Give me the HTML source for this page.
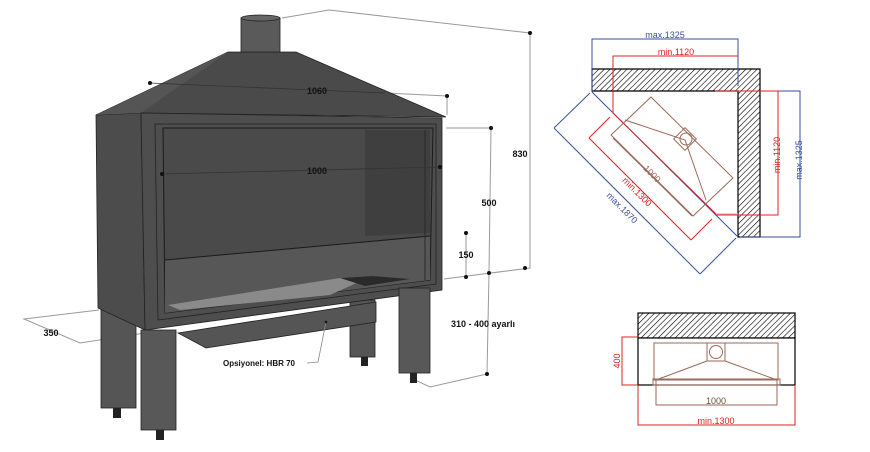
<!DOCTYPE html>
<html><head><meta charset="utf-8"><style>
html,body{margin:0;padding:0;background:#fff;width:870px;height:452px;overflow:hidden}
svg{display:block}
</style></head><body>
<svg width="870" height="452" viewBox="0 0 870 452" xmlns="http://www.w3.org/2000/svg" font-family="Liberation Sans, Arial, sans-serif">
<defs>
<pattern id="h" width="4" height="4" patternUnits="userSpaceOnUse" patternTransform="rotate(45)">
<rect width="4" height="4" fill="#fff"/><line x1="0" y1="0" x2="0" y2="4" stroke="#000" stroke-width="1.2"/>
</pattern>
</defs>
<g stroke="#9a9a9a" stroke-width="1" fill="none">
<polyline points="282,18 329,10 530,33 530,268 444,279"/>
<polyline points="446,128 491,128 489,273 487,374 430,387 415,380"/>
<polyline points="99,310 24,319 80,343 145,333"/>
<line x1="466" y1="233" x2="466" y2="277"/>
<polyline points="385,93 447,96 447,115"/>
</g>
<rect x="101" y="306" width="35" height="102" fill="#555" stroke="#222" stroke-width="0.8"/>
<rect x="113" y="408" width="8" height="10" fill="#222"/>
<rect x="350" y="300" width="25" height="57" fill="#555" stroke="#222" stroke-width="0.8"/>
<rect x="361" y="357" width="7" height="9" fill="#222"/>
<polygon points="96,115 141,113 145,330 98,308" fill="#4c4c4c" stroke="#222" stroke-width="0.8"/>
<polygon points="228,52 296,52 446,117 141,113 96,115" fill="#4a4a4a" stroke="#222" stroke-width="0.8"/>
<polygon points="228,52 141,113 96,115" fill="#555"/>
<rect x="241" y="18" width="39" height="34" fill="#5a5a5a" stroke="#222" stroke-width="0.8"/>
<ellipse cx="260.5" cy="18" rx="19.5" ry="3" fill="#666" stroke="#222" stroke-width="0.8"/>
<polygon points="141,113 442,118 442,290 145,330" fill="#4e4e4e" stroke="#222" stroke-width="0.8"/>
<polygon points="155,124 436,124 436,284 158,320" fill="none" stroke="#222" stroke-width="0.8"/>
<polygon points="163,128 433,128 430,280 165,313" fill="#4a4a4a" stroke="#1a1a1a" stroke-width="1"/>
<polygon points="365,130 430,130 430,233 365,236" fill="#3f3f3f"/>
<polygon points="165,260 430,236 430,280 165,313" fill="#575757"/>
<line x1="165" y1="260" x2="430" y2="236" stroke="#1a1a1a" stroke-width="1"/>
<polygon points="168,305 340,278 372,276 330,295 180,310" fill="#8a8a8a"/>
<polygon points="340,278 372,276 410,279 365,286" fill="#2a2a2a"/>
<line x1="425" y1="130" x2="425" y2="280" stroke="#2a2a2a"/>
<polygon points="178,333 376,302 376,322 206,348" fill="#555" stroke="#222" stroke-width="0.8"/>
<rect x="141" y="330" width="35" height="100" fill="#585858" stroke="#222" stroke-width="0.8"/>
<rect x="156" y="430" width="8" height="10" fill="#222"/>
<rect x="399" y="288" width="31" height="85" fill="#585858" stroke="#222" stroke-width="0.8"/>
<rect x="410" y="373" width="7" height="10" fill="#222"/>
<g stroke="#333" stroke-width="0.8" fill="none">
<line x1="150" y1="83" x2="385" y2="93"/>
<line x1="162" y1="174" x2="440" y2="167"/>
<polyline points="326,322 318,362 307,363" stroke="#888"/>
</g>
<g fill="#111">
<circle cx="150" cy="83" r="2"/><circle cx="447" cy="96" r="2"/>
<circle cx="162" cy="174" r="2"/><circle cx="440" cy="167" r="2"/>
<circle cx="530" cy="33" r="2"/><circle cx="525" cy="268" r="2"/>
<circle cx="491" cy="128" r="2"/><circle cx="489" cy="273" r="2"/>
<circle cx="466" cy="233" r="2"/><circle cx="466" cy="277" r="2"/>
<circle cx="487" cy="374" r="2"/><circle cx="326" cy="322" r="1.3"/>
</g>
<g font-size="9" font-weight="bold" fill="#111" text-anchor="middle">
<text x="317" y="94">1060</text>
<text x="317" y="174">1000</text>
<text x="520" y="157">830</text>
<text x="489" y="206">500</text>
<text x="466" y="258">150</text>
<text x="51" y="336">350</text>
<text x="483" y="327">310 - 400 ayarlı</text>
<text x="259" y="366" font-size="8">Opsiyonel: HBR 70</text>
</g>

<g stroke-width="1" fill="none">
<polygon points="592,69 760,69 760,237 738,237 738,91 592,91" fill="url(#h)" stroke="#000" stroke-width="1.2"/>
<g stroke="#3a4fa0">
<polyline points="592,91 592,39 738,39 738,86"/>
<polyline points="740,91 800,91 800,237 740,237"/>
<line x1="554" y1="128" x2="700" y2="274"/>
<line x1="554" y1="128" x2="590" y2="93"/>
<line x1="700" y1="274" x2="736" y2="238"/>
<line x1="592" y1="92" x2="737" y2="236"/>
</g>
<g stroke="#e02020">
<polyline points="613,113 613,56 738,56"/>
<polyline points="715,91 778,91 778,215 715,215"/>
<line x1="589" y1="138" x2="691" y2="240"/>
<line x1="589" y1="138" x2="610" y2="117"/>
<line x1="691" y1="240" x2="712" y2="219"/>
<line x1="613" y1="113" x2="716" y2="214"/>
</g>
<line x1="716" y1="214" x2="738" y2="214" stroke="#f0a0a0"/>
<g stroke="#9a6a5a">
<polygon points="651,97 733,178 693,216 611,135"/>
<polyline points="625,120 685,140 706,200"/>
<rect x="677" y="131" width="16" height="16" transform="rotate(45 685 139)"/>
<circle cx="686" cy="139" r="6"/>
<line x1="613" y1="138" x2="692" y2="216"/>
</g>
</g>
<g font-size="9">
<text x="665" y="38" fill="#3a4fa0" text-anchor="middle">max.1325</text>
<text x="676" y="55" fill="#e02020" text-anchor="middle">min.1120</text>
<text x="0" y="0" fill="#e02020" text-anchor="middle" transform="translate(780,155) rotate(-90)">min.1120</text>
<text x="0" y="0" fill="#3a4fa0" text-anchor="middle" transform="translate(802,160) rotate(-90)">max.1325</text>
<text x="0" y="0" fill="#9a6a5a" text-anchor="middle" transform="translate(650,176) rotate(45)">1000</text>
<text x="0" y="0" fill="#e02020" text-anchor="middle" transform="translate(635,194) rotate(45)">min.1300</text>
<text x="0" y="0" fill="#3a4fa0" text-anchor="middle" transform="translate(620,210) rotate(45)">max.1870</text>
</g>

<rect x="638" y="313" width="157" height="25" fill="url(#h)" stroke="#000" stroke-width="1.2"/>
<rect x="638" y="338" width="157" height="47" fill="#fff" stroke="#000" stroke-width="1.2"/>
<g stroke="#9a6a5a" fill="none">
<rect x="654" y="343" width="124" height="37"/>
<rect x="707" y="343" width="18" height="18"/>
<circle cx="716" cy="352" r="6.5"/>
<polyline points="656,380 707,361"/><polyline points="725,361 777,380"/>
<rect x="653" y="379" width="127" height="6"/>
<polyline points="656,380 656,405 777,405 777,380"/>
</g>
<g stroke="#e02020" fill="none">
<polyline points="638,337 622,337 622,385 638,385"/>
<polyline points="638,385 638,425 795,425 795,385"/>
</g>
<text x="716" y="404" font-size="9" fill="#6a4a3a" text-anchor="middle">1000</text>
<text x="716" y="424" font-size="9" fill="#e02020" text-anchor="middle">min.1300</text>
<text x="0" y="0" font-size="9" fill="#e02020" text-anchor="middle" transform="translate(620,361) rotate(-90)">400</text>
</svg>
</body></html>
